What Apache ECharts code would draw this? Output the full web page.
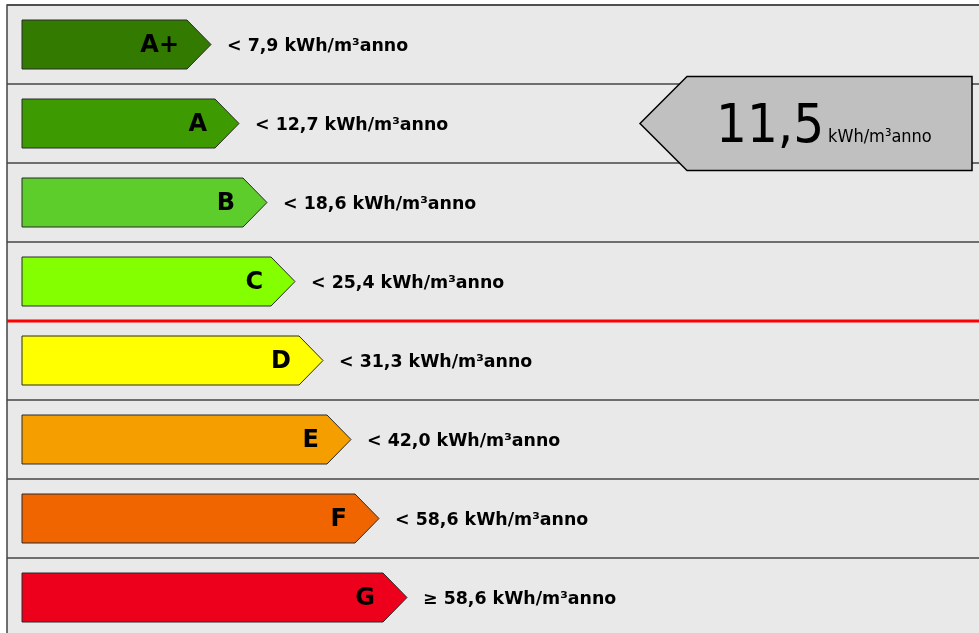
<!DOCTYPE html>
<html>
<head>
<meta charset="utf-8">
<script src="https://cdn.jsdelivr.net/npm/echarts@6/dist/echarts.min.js"></script>
<style>
	html, body { margin: 0; padding: 0; background: #fff; }
	#label { width: 979px; height: 633px; }
</style>
</head>
<body>
<div id="label"></div>
<script>
// classi energetiche e soglie (kWh/m³anno)
var classi = ['A+', 'A', 'B', 'C', 'D', 'E', 'F', 'G']
var soglie = [7.9, 12.7, 18.6, 25.4, 31.3, 42.0, 58.6, 58.6]
var colori = ['#327b00', '#3d9a00', '#5ccd2a', '#84ff00', '#ffff00', '#f49e00', '#f06500', '#ec001b']
// lunghezza delle frecce (unità asse x)
var inizioBarra = 15
var fineBarra = [204, 232, 260, 288, 316, 344, 372, 400]
// valore misurato
var valore = 11.5
var unita = 'kWh/m³anno'
// ultima classe sopra il limite (linea rossa sotto)
var classeLimite = 'C'

function fmt(v) {
	return v.toFixed(1).replace('.', ',')
}

var classeValore = classi.length - 1
for (var k = 0; k < soglie.length - 1; k++) {
	if (valore < soglie[k]) {
		classeValore = k
		break
	}
}

var myChart = echarts.init(document.getElementById('label'))

function renderBar(params, api) {
	var i = api.value(2)
	var a = api.coord([api.value(0), i])
	var b = api.coord([api.value(1), i])
	var h = 49
	var yc = a[1]
	var punta = 24
	var testo = (i < classi.length - 1 ? '< ' : '≥ ') + fmt(soglie[i]) + ' ' + unita
	return {
		type: 'group',
		children: [
			{
				type: 'polygon',
				shape: {
					points: [
						[a[0], yc - h / 2],
						[b[0] - punta, yc - h / 2],
						[b[0], yc],
						[b[0] - punta, yc + h / 2],
						[a[0], yc + h / 2]
					]
				},
				style: { fill: colori[i], stroke: '#2a2a2a', lineWidth: 1 }
			},
			{
				type: 'text',
				x: b[0] - 32,
				y: yc + 1.5,
				style: {
					text: classi[i],
					fill: '#000',
					fontSize: 24,
					fontWeight: 'bold',
					fontFamily: 'DejaVu Sans',
					align: 'right',
					verticalAlign: 'middle'
				}
			},
			{
				type: 'text',
				x: b[0] + 16,
				y: yc + 1.5,
				style: {
					text: testo,
					fill: '#000',
					fontSize: 17.4,
					fontWeight: 'bold',
					fontFamily: 'DejaVu Sans',
					align: 'left',
					verticalAlign: 'middle'
				}
			}
		]
	}
}

function renderLimite(params, api) {
	var i = api.value(0)
	var y = (api.coord([0, i])[1] + api.coord([0, i + 1])[1]) / 2
	var cs = params.coordSys
	return {
		type: 'line',
		shape: { x1: cs.x, y1: y, x2: cs.x + cs.width, y2: y },
		style: { stroke: '#ff0000', lineWidth: 3 }
	}
}

function renderValore(params, api) {
	var yc = api.coord([0, api.value(1)])[1]
	var h = 94
	var xTip = 640, xRect = 687, xEnd = 972
	return {
		type: 'group',
		children: [
			{
				type: 'polygon',
				shape: {
					points: [
						[xTip, yc],
						[xRect, yc - h / 2],
						[xEnd, yc - h / 2],
						[xEnd, yc + h / 2],
						[xRect, yc + h / 2]
					]
				},
				style: { fill: '#c0c0c0', stroke: '#000', lineWidth: 1.5 }
			},
			{
				type: 'text',
				x: 716,
				y: yc + 4,
				style: {
					text: fmt(api.value(0)),
					fill: '#000',
					fontSize: 54,
					fontFamily: '"DejaVu Sans Condensed", "DejaVu Sans"',
					align: 'left',
					verticalAlign: 'middle'
				}
			},
			{
				type: 'text',
				x: 828,
				y: yc + 14,
				style: {
					text: unita,
					fill: '#000',
					fontSize: 18,
					fontFamily: '"DejaVu Sans Condensed", "DejaVu Sans"',
					align: 'left',
					verticalAlign: 'middle'
				}
			}
		]
	}
}

myChart.setOption({
	animation: false,
	grid: {
		show: true,
		outerBoundsMode: 'none',
		left: 7,
		right: -2,
		top: 5,
		height: 632,
		backgroundColor: '#e9e9e9',
		borderColor: '#444',
		borderWidth: 1.5
	},
	xAxis: {
		type: 'value',
		min: 0,
		max: 974,
		show: false
	},
	yAxis: {
		type: 'category',
		inverse: true,
		data: classi,
		axisLine: { show: false },
		axisTick: { show: false },
		axisLabel: { show: false },
		splitLine: { show: true, lineStyle: { color: '#444', width: 1.5 } }
	},
	series: [
		{
			name: 'classi',
			type: 'custom',
			renderItem: renderBar,
			encode: { x: [0, 1], y: 2 },
			data: classi.map(function (c, i) {
				return [inizioBarra, fineBarra[i], i]
			})
		},
		{
			name: 'limite',
			type: 'custom',
			renderItem: renderLimite,
			encode: { y: 0 },
			data: [[classi.indexOf(classeLimite)]]
		},
		{
			name: 'valore',
			type: 'custom',
			renderItem: renderValore,
			encode: { x: 0, y: 1 },
			data: [[valore, classeValore]]
		}
	]
})
</script>
</body>
</html>
